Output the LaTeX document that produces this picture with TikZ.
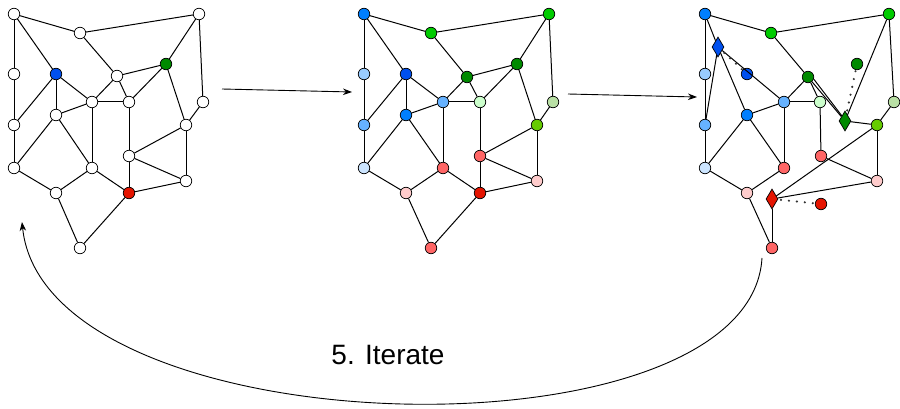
\documentclass[tikz,border=0pt]{standalone}
\usepackage{fontspec}
\newfontfamily\labfont{Liberation Sans}
\usetikzlibrary{shapes.geometric,arrows.meta}
\definecolor{cA}{HTML}{007FFF}
\definecolor{cB}{HTML}{00CC00}
\definecolor{cD}{HTML}{99CCFF}
\definecolor{cE}{HTML}{0050EF}
\definecolor{cF}{HTML}{008A00}
\definecolor{cH}{HTML}{66B2FF}
\definecolor{cI}{HTML}{CCFFCC}
\definecolor{cJ}{HTML}{B9E0A5}
\definecolor{cM}{HTML}{66CC00}
\definecolor{cN}{HTML}{FF6666}
\definecolor{cO}{HTML}{CCE5FF}
\definecolor{cQ}{HTML}{FFCCCC}
\definecolor{cR}{HTML}{E51400}
\definecolor{dotgray}{HTML}{333333}
\tikzset{
  vtx/.style={circle,draw=black,line width=0.7pt,minimum size=11.5pt,inner sep=0pt},
  dia/.style={diamond,draw=black,line width=0.7pt,minimum width=12pt,minimum height=20pt,inner sep=0pt},
  edge/.style={draw=black,line width=1pt},
  dotline/.style={draw=dotgray,line width=2.4pt,line cap=round,dash pattern=on 0pt off 8pt,shorten <=3pt},
  arr/.style={draw=black,line width=0.9pt,-{Stealth[length=9pt,width=6.5pt]}}
}
\begin{document}
\begin{tikzpicture}[x=1pt,y=-1pt]
\useasboundingbox (0,0) rectangle (900,409);
% ---------- graph 1 ----------
\foreach \n/\x/\y/\c in {A/14/14/white,B/80/33/white,C/199/14/white,D/14/74/white,E/56/74/cE,
  F/117/76/white,G/166/64/cF,H/92/102/white,I/129/102/white,J/203/102/white,K/56/115/white,
  L/14/125/white,M/186/125/white,N/129/156/white,O/14/168/white,P/92/168/white,Q/186/181/white,
  R/129/193/cR,S/56/193/white,T/80/248/white}
  \node[vtx,fill=\c] (\n1) at (\x,\y) {};
\foreach \u/\v in {A/B,A/D,A/E,B/C,B/F,C/G,C/J,D/L,E/L,E/K,E/H,F/G,F/I,F/H,G/I,G/M,H/I,H/K,H/P,
  I/N,J/M,K/O,K/P,L/O,M/N,M/Q,N/Q,N/R,R/Q,O/S,S/P,P/R,S/T,T/R}
  \draw[edge] (\u1) -- (\v1);
% ---------- graph 2 ----------
\foreach \n/\x/\y/\c in {A/364/14/cA,B/431/33/cB,C/549/14/cB,D/364/74/cD,E/406/74/cE,
  F/467/77/cF,G/517/64/cF,H/443/102/cH,I/480/102/cI,J/553/102/cJ,K/406/115/cA,
  L/364/125/cH,M/537/125/cM,N/480/156/cN,O/364/168/cO,P/443/168/cN,Q/537/181/cQ,
  R/480/193/cR,S/406/193/cQ,T/431/248/cN}
  \node[vtx,fill=\c] (\n2) at (\x,\y) {};
\foreach \u/\v in {A/B,A/D,A/E,B/C,B/F,C/G,C/J,D/L,E/L,E/K,E/H,F/G,F/I,F/H,G/I,G/M,H/I,H/K,H/P,
  I/N,J/M,K/O,K/P,L/O,M/N,M/Q,N/Q,N/R,R/Q,O/S,S/P,P/R,S/T,T/R}
  \draw[edge] (\u2) -- (\v2);
% ---------- graph 3 ----------
\foreach \n/\x/\y/\c in {A/705/14/cA,B/771/33/cB,C/889/14/cB,D/705/74/cD,E/747/74/cE,
  F/808/77/cF,G/857/64/cF,H/784/102/cH,I/820/102/cI,J/894/102/cJ,K/747/115/cA,
  L/705/125/cH,M/877/125/cM,N/821/156/cN,O/705/168/cO,P/784/168/cN,Q/877/181/cQ,
  R/821/204/cR,S/747/193/cQ,T/772/248/cN}
  \node[vtx,fill=\c] (\n3) at (\x,\y) {};
\node[dia,fill=cE] (bD) at (718,47) {};
\node[dia,fill=cF] (gD) at (845,121) {};
\node[dia,fill=cR] (rD) at (772,199) {};
\foreach \u/\v in {A3/B3,A3/D3,A3/bD,bD/L3,bD/K3,bD/H3,B3/C3,B3/F3,C3/J3,C3/gD,D3/L3,F3/H3,
  F3/I3,F3/gD,gD/M3,H3/I3,H3/K3,H3/P3,I3/N3,J3/M3,K3/O3,K3/P3,L3/O3,M3/Q3,N3/Q3,O3/S3,
  S3/P3,S3/T3,T3/rD,rD/Q3,rD/M3}
  \draw[edge] (\u) -- (\v);
\draw[edge] (F3.-20) -- (gD.north west);
\draw[dotline] (bD) -- (E3);
\draw[dotline] (gD) -- (G3);
\draw[dotline] (rD) -- (R3);
% ---------- arrows ----------
\coordinate (a1s) at (222,89);
\coordinate (a1e) at (352,92);
\coordinate (a2s) at (568,94);
\coordinate (a2e) at (697,97);
\draw[arr] (a1s) -- (a1e);
\draw[arr] (a2s) -- (a2e);
\coordinate (cs) at (762,258);
\coordinate (ce) at (22,222);
\draw[arr] (cs) .. controls (750,465) and (45,450) .. (ce);
\node[font=\labfont\fontsize{28}{32}\selectfont,inner sep=0pt] (lbl) at (388,355) {5. Iterate};
\end{tikzpicture}
\end{document}
